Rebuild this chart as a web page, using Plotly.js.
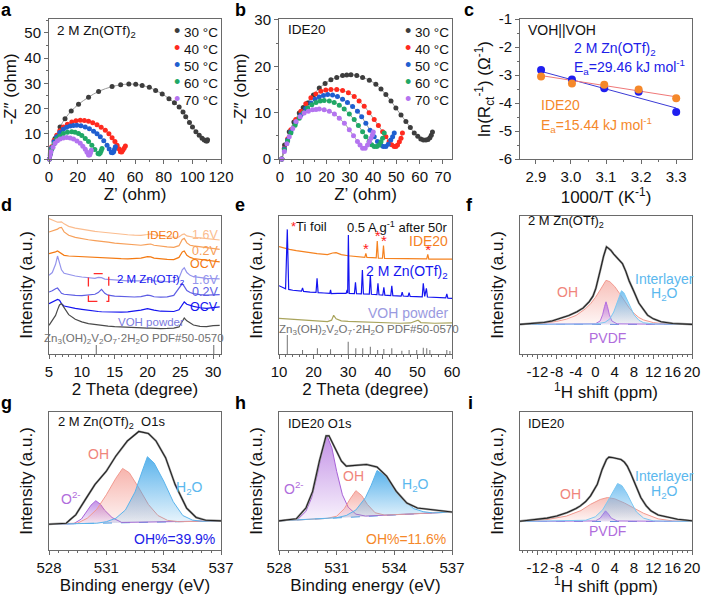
<!DOCTYPE html>
<html><head><meta charset="utf-8">
<script src="https://cdn.plot.ly/plotly-3.0.1.min.js"></script>
<style>html,body{margin:0;padding:0;background:#fff}#plot{width:702px;height:596px}</style>
</head><body><div id="plot"></div>
<script>
// ================= DATA =================
// ---- a: Nyquist, 2 M Zn(OTf)2 ----
const tempLabels = ['30 °C','40 °C','50 °C','60 °C','70 °C'];
const tempColors = ['#3d3d3d','#ff2a1f','#1f5fd0','#1fa866','#b474f0'];
const aZre30 = [0.3,1.9,4.2,7.7,11.2,15.5,20.6,27.6,34.6,44,50,55.7,60.5,65,70,74.4,79,83.7,87.5,90.8,93.5,95.4,98,100.1,102.5,104.8,106.8,108.3,109.6,110.3,110.6];
const aZim30 = [0,4.2,8.1,12.7,16,19,21.7,24.5,26.8,28.7,29.4,29.7,29.6,29.1,28.4,27.2,25.8,23.9,22.3,20.6,18.6,16.7,14.5,12.7,10.8,9.4,8.2,7.5,7.1,7.1,7.6];
const aZre40 = [0.3,1,1.9,3.5,5.4,7.5,10,12.8,15.9,18.8,21.8,24.7,27.6,30.5,33.5,36.4,39.3,41.8,44,46,47.5,48.8,49.8,50.7,51.5,52.4,53.3];
const aZim40 = [0,2.5,4.9,7.3,9.4,11.2,12.7,13.8,14.7,15.2,15.4,15.3,15,14.4,13.6,12.6,11.4,10,8.4,6.9,5.5,4.1,2.9,2.8,3.5,4.3,5.2];
const aZre50 = [0.3,1,1.9,3.5,5.4,7.5,10,12.3,14.7,17,19.4,22.3,25.3,28.2,31.1,33.5,35.8,38.2,40.5,42,43.5,44.3,45.1,45.7,46.3];
const aZim50 = [0,2.3,4.5,6.8,8.8,10.5,11.8,12.6,13.1,13.3,13.4,13.2,12.7,12,11,10,8.8,7.2,5.5,4,2.6,2.5,2.9,3.9,4.9];
const aZre60 = [0.3,1,1.9,3.5,5.4,7.5,10,12.9,15.9,18.2,20.6,22.9,25.3,27.6,29.9,32,34.2,35,35.8,36.4,37];
const aZim60 = [0,2,3.9,6,7.9,9.1,10.1,10.6,10.8,10.6,10.1,9.3,8.1,6.9,5.5,3.8,2.2,2,2.5,3.3,4.2];
const aZre70 = [0.3,0.8,1.4,2.8,4.2,5.9,7.7,10,12.4,14.8,17.1,19.5,21.8,23.6,25.3,26.5,27.6,28.1,28.5,29,29.5];
const aZim70 = [0,1.5,2.9,4.7,6.2,7.2,7.9,8.3,8.5,8.3,7.9,7.1,6.2,5.1,3.9,2.7,1.6,1.6,1.8,2.6,3.5];

// ---- b: Nyquist, IDE20 ----
const bZre30 = [0.8,2,4,6,8.3,10,11.9,14.4,16.9,19.4,21.9,24.4,26.9,28.7,30.5,33,35.5,38.4,41.2,43.4,45.5,47.7,49.8,52,54.1,56,57.7,59.2,60.5,61.6,62.7,63.6,64.4,65,65.5];
const bZim30 = [0,3,5.9,8,9.9,11.1,12.1,13.8,15.3,16.3,17.1,17.6,18,18.1,18.2,18,17.6,17,16.1,15.1,13.9,12.5,11,9.5,8.1,6.8,5.6,4.9,4.3,4.1,4.1,4.2,4.6,5.1,5.8];
const bZre40 = [0.8,1.9,3.3,4.7,6.8,9,11.1,13.3,15.4,17.6,19.7,21.9,24.4,26.9,29.4,31.9,34,36.2,38.3,40.5,42.3,44.1,45.5,46.9,48,49.1,49.8,50.5,51.3,52,52.6];
const bZim40 = [0,2.3,4.3,6.3,8.5,10.3,11.9,13.2,14,14.6,14.9,15,15,14.8,14.3,13.5,12.5,11.4,10,8.5,7.2,5.9,4.8,3.8,3.1,2.7,2.7,3,3.7,4.5,5.6];
const bZre50 = [0.8,1.9,3.3,4.7,6.8,9,11.1,13.3,15.1,16.9,18.7,20.5,22.6,24.7,26.9,29,31.2,33.3,35.1,36.9,38.7,40.5,41.9,43.3,44.4,45.5,46.5,47.6,48.4,49.1];
const bZim50 = [0,2.2,4.1,5.9,7.9,9.5,10.9,12.1,12.9,13.4,13.7,13.9,13.8,13.5,12.9,12.2,11.3,10.3,9.1,7.7,6.2,4.8,3.8,3,2.7,2.7,3.2,4.1,4.8,5.6];
const bZre60 = [0.8,1.9,3.3,4.7,6.5,8.3,10.1,11.9,13.7,15.5,17.3,19,21.2,23.3,25.5,27.6,29.8,31.9,33.7,35.5,36.9,38.3,39.4,40.5,41.6,42.6,43.4,44.1,44.8];
const bZim60 = [0,2,3.9,5.6,7.3,8.8,10,11,11.7,12.2,12.5,12.6,12.5,12.2,11.6,10.8,9.7,8.5,7.2,5.9,4.8,3.8,3.1,2.7,2.7,3,3.7,4.5,5.6];
const bZre70 = [0.8,1.9,3,4,5.5,6.9,8.7,10.4,12.2,14,15.5,16.9,19,21.2,23.4,25.5,27.7,29.8,31.6,33.3,34.4,35.5,36.6,37.6,38.4,39.1,39.7,40.1];
const bZim70 = [0,1.6,3.3,4.8,6.6,8.1,9.1,9.9,10.3,10.6,10.7,10.8,10.6,10.3,9.7,8.8,7.7,6.3,5,3.8,3,2.3,2.3,3,3.7,4.5,5.2,5.8];

// ---- c: Arrhenius ----
const cInvT = [2.915, 3.003, 3.095, 3.193, 3.300];
const cLnZn = [-2.82, -3.16, -3.47, -3.60, -4.32];
const cLnIDE = [-3.05, -3.30, -3.35, -3.52, -3.83];
const cFitX = [2.915, 3.300];
const cFitZn = [-2.87, -4.18];
const cFitIDE = [-3.02, -3.78];
const cYTickVals = [-6,-5,-4,-3,-2,-1];
const cYTickText = ['-6','-5','-4','-3','-2','-1'];

// ---- d: ex-situ XRD (stacked, offset intensity in %) ----
const dTheta = [5,5.5,6,6.3,6.6,6.9,7.3,8,9,10,11,12,12.5,13,13.5,14,15,16,17,18,19,20,20.5,21,22,23,24,24.8,25.3,25.6,26,26.5,27,28,29,30,31];
const dIde16 = [98.1,97,96,95.5,95.5,95.8,94.3,92.5,91.2,90.3,89.6,88.9,88.6,88.3,88,87.8,87.2,86.8,86.4,86.1,86,86.6,87,86.3,85.5,85,84.6,84.8,86.5,87,85.6,85,84.6,84.1,83.5,83.1,82.6];
const dIde02 = [88.4,89,89.6,90.5,91.5,91.8,88.5,86,84.5,83.5,82.8,82.2,82,81.7,81.4,81,80.3,79.8,79.3,79,78.8,79.5,79.7,78.8,78,77.6,77.3,78.5,83,83.8,80.5,78.8,78.3,77.6,77,76.5,75.8];
const dIdeOcv = [72.7,73.2,74,74.6,73.8,72.5,71.5,71,70.7,70.4,70.2,70,69.9,69.8,69.6,69.5,69.3,69.1,69,69,69.5,70.6,70.4,69.5,68.8,68.5,68.4,70,74,74.6,71.5,70,69.2,68.6,68,67.3,66.7];
const dZn16 = [57,59,65,71,66,61,58.5,57.5,56.5,55.8,55.2,54.8,55.5,55.3,54.3,54,53.6,53.3,53,52.8,53,54.2,54,53,52.5,52.4,52.6,55,61,62.5,59,57,56,55.2,54.8,54.6,54.5];
const dZn02 = [44.9,45.8,47.3,47.8,46,44,43.3,42.8,42.5,42.3,42.6,43.3,44.5,46.9,44,42.6,42,41.7,41.5,41.3,41.6,42.6,42.3,41.5,41.2,41.4,42.5,48,51,49,46,44.6,43.8,43,42.6,42.8,43];
const dZnOcv = [36.5,37.5,38.8,39.6,39,36.5,34.8,34,33,32.3,31.5,31,30.8,30.6,30.5,30.4,30.3,30.3,30.5,31,31.8,32.9,32.6,31.8,31,30.7,30.8,32,36,37.7,36,35,34.5,33.5,33,33.6,34.1];
const dVoh = [20.8,24,28,32,35.5,36.5,33.5,28.5,25.2,23.3,22,21.3,21,20.7,20.4,20.2,19.8,19.5,19.2,18.9,18.7,18.8,18.7,18.5,18.4,18.5,18.8,19.6,24,26.1,24,22.3,21,20,19.8,20.6,20.8];
const dRefPos = [12.2, 30.1];
const dRefH = [6.5, 6.5];
const dLabels = ['1.6V','0.2V','OCV','1.6V','0.2V','OCV'];

// ---- e: XRD after 50 cycles ----
const eIdeX = [10,11,13,15,18,21,24,25.5,26.5,28,30,33,34.8,35.1,35.4,37,38.1,38.4,38.7,39.9,40.2,40.5,42,45,48,52.7,53,53.3,56,60];
const eIdeY = [77.8,77.0,75.8,74.9,73.7,72.7,72.0,73.2,73.4,72.0,71.2,70.3,70.0,72.9,70.0,69.8,69.7,81.9,69.5,69.4,78.5,69.3,69.3,69.1,69.1,69.0,72.2,68.8,68.8,68.8];
const eZnX = [10,11,11.9,12.4,12.8,14,16.5,16.8,17.1,19,20.7,21.0,21.3,23,24.7,24.9,25.1,27,29.4,29.7,29.85,30.05,30.3,31.8,32.1,32.4,33.8,34.1,34.4,36.1,36.4,36.7,38.3,38.6,38.9,40,40.3,40.6,42.3,42.6,42.9,45.3,45.6,45.9,47.3,47.6,47.9,51.4,51.7,52.1,52.6,52.9,55,58.2,58.5,58.8,60];
const eZnY = [49.5,48.5,47.3,90.3,46.8,46.2,45.6,47.8,45.4,44.8,44.6,54.8,44.5,44.2,43.9,46.5,43.8,43.9,43.9,46.5,44,86.2,43.9,43.8,51.9,43.7,43.6,60.9,43.5,43.4,57.2,43.3,43.0,51.2,42.9,42.7,48.3,42.7,42.4,49.5,42.3,42,44.8,42,41.8,44.5,41.7,41.4,51.2,41.8,47.6,41.3,41,40.6,43.5,40.5,40.3];
const eVohX = [10,15,20,24,25.2,25.8,26.5,28,30,35,40,45,48,50.2,51,55,60];
const eVohY = [25.8,25,24,23.5,24.5,28,25.5,24,23.6,23,22.7,22.3,22.5,24.5,22.8,22.3,22.6];
const eStarX = [35.1, 38.5, 40.3, 53.1];
const eStarY = [75.0, 84.3, 80.8, 74.5];
const eRefPos = [12.4,16.8,21.1,24.9,30.0,32.2,34.2,36.4,38.5,40.3,42.6,45.5,47.6,49.8,51.7,52.7,53.6,58.5,59.4];
const eRefH = [13.8,2.9,4.1,3.4,8.9,4.1,4.1,5.3,2.9,3.6,4.1,2.4,2.9,2.9,4.6,4.1,2.9,2.9,2.2];

// ---- f: 1H NMR, 2 M Zn(OTf)2 (intensity above baseline) ----
const nmrTickVals = [-12,-8,-4,0,4,8,12,16,20];
const nmrTickText = ['-12','-8','-4','0','4','8','12','16','20'];
const fEnvX = [-15.6,-12,-10.7,-9,-7.2,-5.5,-3.8,-2.5,-1.3,-0.5,0.1,0.6,1.1,1.7,2.3,2.8,3.2,3.8,4.6,5.6,6.3,7.0,8.0,9.0,10.8,12,13.6,16,20];
const fEnvY = [0,0.7,1.4,2.5,4.3,6.5,9.2,12,16.4,20.5,26.1,32.5,40.5,49.5,56.3,55,53.8,51,47.8,44.2,38.5,31.5,23.7,15.5,6.7,4,1.9,0.7,0];
const fOhX = [-15.6,-12,-10,-8,-6,-4,-2,-1,0,1,2.2,3,4,5,6,7,8,9,10,12,14,20];
const fOhY = [0,0.6,1.2,2.2,3.8,6.5,11.5,15,19.5,25,32,31,27.5,22.5,17,12,8,5,3.2,1.3,0.5,0];
const fH2oX = [-15.6,0,2,3,3.8,4.5,5.0,5.4,5.9,6.5,7.2,8,9,10,12,20];
const fH2oY = [0,0.3,1.5,4,9,16,21.5,24.4,23,18.5,12.5,7,3,1.2,0.3,0];
const fPvdfX = [-15.6,0,1,1.5,1.9,2.2,2.5,2.9,3.4,4.5,20];
const fPvdfY = [0,0.4,2.5,7,13,16.4,13,7,2.5,0.4,0];
const nmrBaseX = [-15.6, 20];
const nmrBaseY = [0, 0];

// ---- g: XPS O1s, 2 M Zn(OTf)2 ----
const gBaseX = [528, 537];
const gBaseY = [18.7, 21.1];
const gEnvX = [528,528.9,529.1,529.4,529.9,530.4,531,531.5,532.1,532.7,533.2,533.6,534.1,534.6,535.2,535.7,536.2,537];
const gEnvY = [18.7,19.4,21.9,25.5,36.5,47.4,57.1,68.1,79,85.9,84.4,79,66.9,47.4,30.4,23.6,21.6,21.1];
const gO2X = [528,529.3,529.7,530,530.2,530.45,530.7,530.9,531.3,531.8,537];
const gO2Y = [18.7,19.1,22.5,28,32.5,35.7,33,29,23.5,20,21.1];
const gOhX = [528,529.5,530,530.5,531,531.5,531.85,532.2,532.7,533.2,533.7,534.2,534.8,537];
const gOhY = [18.7,19.5,23,29.5,40,52,59.1,56,45,33,25,21.5,20.5,21.1];
const gH2oX = [528,530.5,531,531.5,532,532.5,532.9,533.15,533.5,534,534.5,535,535.5,536,537];
const gH2oY = [18.7,19.4,20.5,23,29,42,58,67.6,63,50,35,25,21.7,20.8,21.1];

// ---- h: XPS O1s, IDE20 ----
const hBaseX = [528, 537];
const hBaseY = [21.1, 27.5];
const hEnvX = [528,528.9,529.4,529.75,530.1,530.45,530.6,530.9,531.25,531.5,531.95,532.55,533.1,533.6,534.1,534.65,535.2,535.9,537];
const hEnvY = [21.1,22.6,30.4,42.5,64.4,82.7,82.7,74.2,64.4,60.8,61.5,62,60.1,53.5,42.5,34,30.4,29.2,27.5];
const hO2X = [528,529,529.4,529.7,530,530.25,530.5,530.75,531,531.3,531.6,532,532.5,537];
const hO2Y = [21.1,22.5,28,38,55,72,82.7,74,57,40,31,26,24.6,27.5];
const hOhX = [528,530.5,531,531.4,531.7,532,532.3,532.6,533,533.5,537];
const hOhY = [21.1,22.9,24.5,30,37,43,39.5,33,27,25.3,27.5];
const hH2oX = [528,531,531.5,532,532.5,532.8,533.1,533.5,534,534.5,535,535.5,536,537];
const hH2oY = [21.1,23.4,25,29,38,47,57.6,54,45,36,30,27.8,26.9,27.5];

// ---- i: 1H NMR, IDE20 (intensity above baseline) ----
const iEnvX = [-15.6,-12,-10,-8,-5.8,-4,-3.1,-2,-1,0.4,1.4,2.3,2.8,3.5,3.9,4.6,5.3,6.0,6.6,7.3,8.0,8.7,9.4,10.5,11.5,13,15,17,20];
const iEnvY = [0.2,1.4,2.4,3.9,6.5,9.4,11.3,14.4,18.5,26.9,37.6,44.8,46.5,46.2,46,45.4,44.8,42.9,40,34.9,29.2,22.9,17.3,11.4,7.7,4.7,2.9,1.6,0.5];
const iH2oX = [-15.6,-2,0,1.5,3,4,4.6,5.5,6.5,7.5,8.5,10,12,20];
const iH2oY = [0,0.9,3.4,8.4,17.4,24.4,27.4,25.9,20.4,13.4,6.9,2.4,0.4,0];
const iOhX = [-15.6,-10,-6,-3,-1,1,2.5,4,6,8,10,13,16,20];
const iOhY = [0,1.4,3.9,7.9,12.4,15.9,17.3,16.4,13.4,9.4,5.9,1.9,0.4,0];
const iPvdfX = [-15.6,0,1,1.6,2.1,2.7,3.3,4.5,20];
const iPvdfY = [0,0.4,2.4,5.4,7.7,5.4,2.4,0.4,0];

// ================= STYLE =================
const W = 702, H = 596;
const FONT = 'Liberation Sans, Arial, sans-serif';
const C_OH = '#f0857b', C_H2O = '#5bb8ee', C_O2 = '#b06ddc', C_ORG = '#f5821f';
const px = v => v / W, py = v => 1 - v / H;
const col = [[49,221],[279,452],[520,692]];
const row = [[19,159],[216,354],[412,550]];
const dx = c => [px(col[c][0]), px(col[c][1])];
const dy = r => [py(row[r][1]), py(row[r][0])];

const traces = [];
function L(x, y, xa, ya, color, width, extra) {
  const t = {type:'scatter', mode:'lines', x, y, xaxis:xa, yaxis:ya, line:{color, width}, hoverinfo:'skip', cliponaxis:true};
  traces.push(Object.assign(t, extra || {}));
}
function grad(rgb, a0, a1) {
  return {type:'vertical', colorscale:[[0,`rgba(${rgb},${a0})`],[1,`rgba(${rgb},${a1})`]]};
}

// a & b Nyquist
const aSets = [[aZre30,aZim30],[aZre40,aZim40],[aZre50,aZim50],[aZre60,aZim60],[aZre70,aZim70]];
const bSets = [[bZre30,bZim30],[bZre40,bZim40],[bZre50,bZim50],[bZre60,bZim60],[bZre70,bZim70]];
[[aSets,'x','y'],[bSets,'x2','y2']].forEach(([sets,xa,ya]) => {
  sets.forEach(([x,y]) => L(x, y, xa, ya, '#9a9a9a', 1, {line:{color:'#9a9a9a',width:1,shape:'spline'}}));
  sets.forEach(([x,y],k) => traces.push({type:'scatter', mode:'markers', x, y, xaxis:xa, yaxis:ya, name:tempLabels[k],
    marker:{color:tempColors[k], size:5}, cliponaxis:false, hoverinfo:'skip'}));
});

// c Arrhenius
L(cFitX, cFitZn, 'x3','y3', '#3b3bd6', 1);
L(cFitX, cFitIDE, 'x3','y3', '#f07878', 1);
traces.push({type:'scatter', mode:'markers', x:cInvT, y:cLnZn, xaxis:'x3', yaxis:'y3', marker:{color:'#1f1ff0', size:8}, hoverinfo:'skip'});
traces.push({type:'scatter', mode:'markers', x:cInvT, y:cLnIDE, xaxis:'x3', yaxis:'y3', marker:{color:'#f5882a', size:8}, hoverinfo:'skip'});

// d XRD stacked
const dSeries = [[dIde16,'#fbbd8f'],[dIde02,'#f7a05a'],[dIdeOcv,'#f47a12'],[dZn16,'#9494ec'],[dZn02,'#5e5ee4'],[dZnOcv,'#1414f0'],[dVoh,'#4a4a4a']];
traces.push({type:'bar', x:dRefPos, y:dRefH, width:0.15, xaxis:'x4', yaxis:'y4', marker:{color:'#666'}, hoverinfo:'skip'});
dSeries.forEach(([y,c]) => L(dTheta, y, 'x4','y4', c, 1.2));

// e XRD
traces.push({type:'bar', x:eRefPos, y:eRefH, width:0.3, xaxis:'x5', yaxis:'y5', marker:{color:'#777'}, hoverinfo:'skip'});
L(eVohX, eVohY, 'x5','y5', '#a9a45c', 1.2);
L(eIdeX, eIdeY, 'x5','y5', C_ORG, 1.2);
L(eZnX, eZnY, 'x5','y5', '#1414f0', 1.2);
traces.push({type:'scatter', mode:'text', x:eStarX, y:eStarY, text:eStarX.map(()=>'*'), xaxis:'x5', yaxis:'y5',
  textfont:{color:'#ff2020', size:15}, textposition:'middle center', hoverinfo:'skip', cliponaxis:false});

// f & i NMR
function nmr(xa, ya, oh, h2o, pv, env) {
  L(nmrBaseX, nmrBaseY, xa, ya, '#5b8fe0', 1, {line:{color:'#5b8fe0', width:1, dash:'dash'}});
  L(oh[0], oh[1], xa, ya, '#f29a90', 1, {fill:'tozeroy', fillgradient:grad('242,140,128',0.08,0.55)});
  L(pv[0], pv[1], xa, ya, '#b46ee0', 1, {fill:'tozeroy', fillgradient:grad('176,100,224',0.1,0.75)});
  L(h2o[0], h2o[1], xa, ya, '#7cc8f2', 1, {fill:'tozeroy', fillgradient:grad('90,180,238',0.08,0.8)});
  L(env[0], env[1], xa, ya, '#9a9a9a', 2.2);
  L(env[0], env[1], xa, ya, '#222', 1.1);
}
nmr('x6','y6',[fOhX,fOhY],[fH2oX,fH2oY],[fPvdfX,fPvdfY],[fEnvX,fEnvY]);
nmr('x9','y9',[iOhX,iOhY],[iH2oX,iH2oY],[iPvdfX,iPvdfY],[iEnvX,iEnvY]);

// g & h XPS
function xps(xa, ya, base, o2, oh, h2o, env) {
  L(base[0], base[1], xa, ya, '#4aa0e8', 1, {line:{color:'#4aa0e8', width:1, dash:'dash'}});
  L(o2[0], o2[1], xa, ya, '#a862d8', 1, {fill:'tonexty', fillgradient:grad('170,100,220',0.08,0.7)});
  L(base[0], base[1], xa, ya, 'rgba(0,0,0,0)', 0);
  L(oh[0], oh[1], xa, ya, '#f29a90', 1, {fill:'tonexty', fillgradient:grad('242,130,118',0.08,0.6)});
  L(base[0], base[1], xa, ya, 'rgba(0,0,0,0)', 0);
  L(h2o[0], h2o[1], xa, ya, '#5ab4ec', 1, {fill:'tonexty', fillgradient:grad('60,165,232',0.1,0.85)});
  L(env[0], env[1], xa, ya, '#a0a0a0', 2.2);
  L(env[0], env[1], xa, ya, '#222', 1.1);
}
xps('x7','y7',[gBaseX,gBaseY],[gO2X,gO2Y],[gOhX,gOhY],[gH2oX,gH2oY],[gEnvX,gEnvY]);
xps('x8','y8',[hBaseX,hBaseY],[hO2X,hO2Y],[hOhX,hOhY],[hH2oX,hH2oY],[hEnvX,hEnvY]);

// ================= AXES =================
const TICKF = 15, TITLEF = 17;
const mn = d => ({dtick:d, ticks:'outside', ticklen:2, tickcolor:'#6a6a6a'});
const axBase = {showline:true, mirror:true, linecolor:'#6a6a6a', linewidth:1, ticks:'outside', ticklen:4, tickwidth:1,
  tickcolor:'#6a6a6a', tickfont:{size:TICKF, color:'#111'}, tickangle:0, showgrid:false, zeroline:false, fixedrange:true};
function X(c, anchor, range, title, extra) {
  return Object.assign({}, axBase, {domain:dx(c), anchor, range, title:{text:title, font:{size:TITLEF,color:'#111'}, standoff:2}}, extra || {});
}
function Y(r, anchor, range, title, extra) {
  return Object.assign({}, axBase, {domain:dy(r), anchor, range, title:{text:title, font:{size:TITLEF,color:'#111'}, standoff:3}}, extra || {});
}
const noTicks = {showticklabels:false, ticks:'', title:{text:'Intensity (a.u.)', font:{size:TITLEF,color:'#111'}, standoff:11}};
const nmrX = {tickmode:'array', tickvals:nmrTickVals, ticktext:nmrTickText, minor:{tickmode:'linear', tick0:-12, dtick:1, ticks:'outside', ticklen:2, tickcolor:'#6a6a6a'}};

const layout = {
  width:W, height:H, margin:{l:0,r:0,t:0,b:0}, showlegend:false, barmode:'overlay',
  paper_bgcolor:'#fff', plot_bgcolor:'#fff', font:{family:FONT, color:'#111'},
  xaxis:  X(0,'y',[0,120],'Z’ (ohm)', {dtick:20, minor:mn(10)}),
  yaxis:  Y(0,'x',[0,55.5],'-Z″ (ohm)', {dtick:10, minor:mn(5)}),
  xaxis2: X(1,'y2',[-0.4,73.9],'Z’ (ohm)', {dtick:10, minor:mn(5)}),
  yaxis2: Y(0,'x2',[0,30.2],'-Z″ (ohm)', {dtick:10, minor:mn(5)}),
  xaxis3: X(2,'y3',[2.855,3.345],'1000/T (K<sup>-1</sup>)', {dtick:0.1, tick0:2.9, tickformat:'.1f', minor:mn(0.05)}),
  yaxis3: Y(0,'x3',[-6,-1],'ln(R<sub>ct</sub><sup>-1</sup>) (Ω<sup>-1</sup>)', {tickmode:'array', tickvals:cYTickVals, ticktext:cYTickText, minor:{tickmode:'linear', tick0:-6, dtick:0.5, ticks:'outside', ticklen:2, tickcolor:'#6a6a6a'}}),
  xaxis4: X(0,'y4',[5,31.2],'2 Theta (degree)', {dtick:5, minor:mn(1)}),
  yaxis4: Y(1,'x4',[0,100],'', noTicks),
  xaxis5: X(1,'y5',[10,60],'2 Theta (degree)', {dtick:10, minor:mn(2)}),
  yaxis5: Y(1,'x5',[0,100],'', noTicks),
  xaxis6: X(2,'y6',[-15.6,20],'<sup>1</sup>H shift (ppm)', nmrX),
  yaxis6: Y(1,'x6',[-21.5,78.7],'', noTicks),
  xaxis7: X(0,'y7',[528,537],'Binding energy (eV)', {dtick:3, tick0:528, minor:mn(0.5)}),
  yaxis7: Y(2,'x7',[0,100],'', noTicks),
  xaxis8: X(1,'y8',[528,537],'Binding energy (eV)', {dtick:3, tick0:528, minor:mn(0.5)}),
  yaxis8: Y(2,'x8',[0,100],'', noTicks),
  xaxis9: X(2,'y9',[-15.6,20],'<sup>1</sup>H shift (ppm)', nmrX),
  yaxis9: Y(2,'x9',[-20.6,79.1],'', noTicks),
  shapes:[{type:'rect', xref:'x4', yref:'y4', x0:11, x1:14.1, y0:38.2, y1:58.2, line:{color:'#ff2a2a', width:1.3, dash:'dash'}}],
  annotations:[]
};

// ================= TEXT =================
const ann = layout.annotations;
function A(text, x, y, xref, yref, opts) {
  ann.push(Object.assign({text, x, y, xref, yref, showarrow:false, xanchor:'center', yanchor:'middle', font:{size:13, color:'#111'}}, opts || {}));
}
function AP(text, x, y, opts) { A(text, px(x), py(y), 'paper', 'paper', opts); }
// panel letters
[['a',6,10],['b',240,10],['c',469,10],['d',6,205],['e',240,205],['f',469,205],['g',6,403],['h',240,403],['i',471,403]]
  .forEach(([t,x,y]) => AP('<b>'+t+'</b>', x, y, {font:{size:18, color:'#000'}}));
// a/b headers and temperature keys
AP('2 M Zn(OTf)<sub>2</sub>', 55, 31, {xanchor:'left', font:{size:13.5}});
AP('IDE20', 286, 30, {xanchor:'left', font:{size:13.5}});
const keyY = [31, 48, 65, 82, 99];
tempLabels.forEach((lab,k) => {
  const txt = `<span style="color:${tempColors[k]};font-size:18px">•</span> ${lab}`;
  AP(txt, 172, keyY[k], {xanchor:'left', font:{size:13.5}});
  AP(txt, 403, keyY[k], {xanchor:'left', font:{size:13.5}});
});
// c
A('VOH||VOH', 2.871, -1.41, 'x3','y3', {xanchor:'left', font:{size:14}});
A('2 M Zn(OTf)<sub>2</sub>', 3.003, -2.06, 'x3','y3', {xanchor:'left', font:{size:14, color:'#2020e8'}});
A('E<sub>a</sub>=29.46 kJ mol<sup>-1</sup>', 3.003, -2.72, 'x3','y3', {xanchor:'left', font:{size:14, color:'#2020e8'}});
A('IDE20', 2.908, -4.08, 'x3','y3', {xanchor:'left', font:{size:14, color:'#f5882a'}});
A('E<sub>a</sub>=15.44 kJ mol<sup>-1</sup>', 2.908, -4.8, 'x3','y3', {xanchor:'left', font:{size:14, color:'#f5882a'}});
// d
A('IDE20', 22.4, 86.5, 'x4','y4', {font:{size:11.5, color:'#f47a12'}});
const dLabY = [86.5, 74.4, 65.5, 53.8, 44.9, 34.1];
const dLabC = ['#fbbd8f','#f7a05a','#f47a12','#9494ec','#5e5ee4','#1414f0'];
dLabels.forEach((t,k) => A(t, 31.0, dLabY[k], 'x4','y4', {xanchor:'right', font:{size:12.5, color:dLabC[k]}}));
A('2 M Zn(OTf)<sub>2</sub>', 20.6, 53.8, 'x4','y4', {font:{size:11.5, color:'#1414f0'}});
A('VOH powder', 20.6, 23.2, 'x4','y4', {font:{size:11.5, color:'#7b7be0'}});
A('Zn<sub>3</sub>(OH)<sub>2</sub>V<sub>2</sub>O<sub>7</sub>·2H<sub>2</sub>O PDF#50-0570', 18.0, 11.1, 'x4','y4', {font:{size:11.5, color:'#707070'}});
// e
A('<span style="color:#ff2020">*</span>Ti foil', 12.8, 92.3, 'x5','y5', {xanchor:'left', font:{size:13}});
A('0.5 A g<sup>-1</sup> after 50r', 59.3, 92.3, 'x5','y5', {xanchor:'right', font:{size:13}});
A('IDE20', 59.3, 81.6, 'x5','y5', {xanchor:'right', font:{size:14, color:C_ORG}});
A('2 M Zn(OTf)<sub>2</sub>', 59.3, 59.2, 'x5','y5', {xanchor:'right', font:{size:14, color:'#1414f0'}});
A('VOH powder', 59.3, 29.4, 'x5','y5', {xanchor:'right', font:{size:14, color:'#9a9ae0'}});
A('Zn<sub>3</sub>(OH)<sub>2</sub>V<sub>2</sub>O<sub>7</sub>·2H<sub>2</sub>O PDF#50-0570', 36, 17.4, 'x5','y5', {font:{size:11.5, color:'#707070'}});
// f
A('2 M Zn(OTf)<sub>2</sub>', -14.4, 74.4, 'x6','y6', {xanchor:'left', font:{size:13}});
A('OH', -5.8, 23.7, 'x6','y6', {font:{size:14, color:C_OH}});
A('Interlayer', 14.3, 33.3, 'x6','y6', {font:{size:14, color:C_H2O}});
A('H<sub>2</sub>O', 14.4, 22.3, 'x6','y6', {font:{size:14, color:C_H2O}});
A('PVDF', 2.5, -10.2, 'x6','y6', {font:{size:14, color:C_O2}});
// i
A('IDE20', -14.4, 70.5, 'x9','y9', {xanchor:'left', font:{size:13}});
A('OH', -5.1, 19.7, 'x9','y9', {font:{size:14, color:C_OH}});
A('Interlayer', 14.4, 32.8, 'x9','y9', {font:{size:14, color:C_H2O}});
A('H<sub>2</sub>O', 14.4, 21.6, 'x9','y9', {font:{size:14, color:C_H2O}});
A('PVDF', 2.5, -7.2, 'x9','y9', {font:{size:14, color:C_O2}});
// g
A('2 M Zn(OTf)<sub>2</sub>  O1s', 528.35, 92.4, 'x7','y7', {xanchor:'left', font:{size:13}});
A('OH', 530.6, 69.3, 'x7','y7', {font:{size:14, color:C_OH}});
A('O<sup>2-</sup>', 529.15, 37.7, 'x7','y7', {font:{size:14, color:C_O2}});
A('H<sub>2</sub>O', 535.35, 45, 'x7','y7', {font:{size:14, color:C_H2O}});
A('OH%=39.9%', 536.8, 8.0, 'x7','y7', {xanchor:'right', font:{size:14, color:'#2020e8'}});
// h
A('IDE20 O1s', 528.35, 91.7, 'x8','y8', {xanchor:'left', font:{size:13}});
A('O<sup>2-</sup>', 528.8, 45, 'x8','y8', {font:{size:14, color:C_O2}});
A('OH', 531.9, 53.5, 'x8','y8', {font:{size:14, color:C_OH}});
A('H<sub>2</sub>O', 535.1, 46.9, 'x8','y8', {font:{size:14, color:C_H2O}});
A('OH%=11.6%', 536.8, 8.0, 'x8','y8', {xanchor:'right', font:{size:14, color:'#f5882a'}});

Plotly.newPlot('plot', traces, layout, {staticPlot:true, displayModeBar:false});
</script>
</body></html>
